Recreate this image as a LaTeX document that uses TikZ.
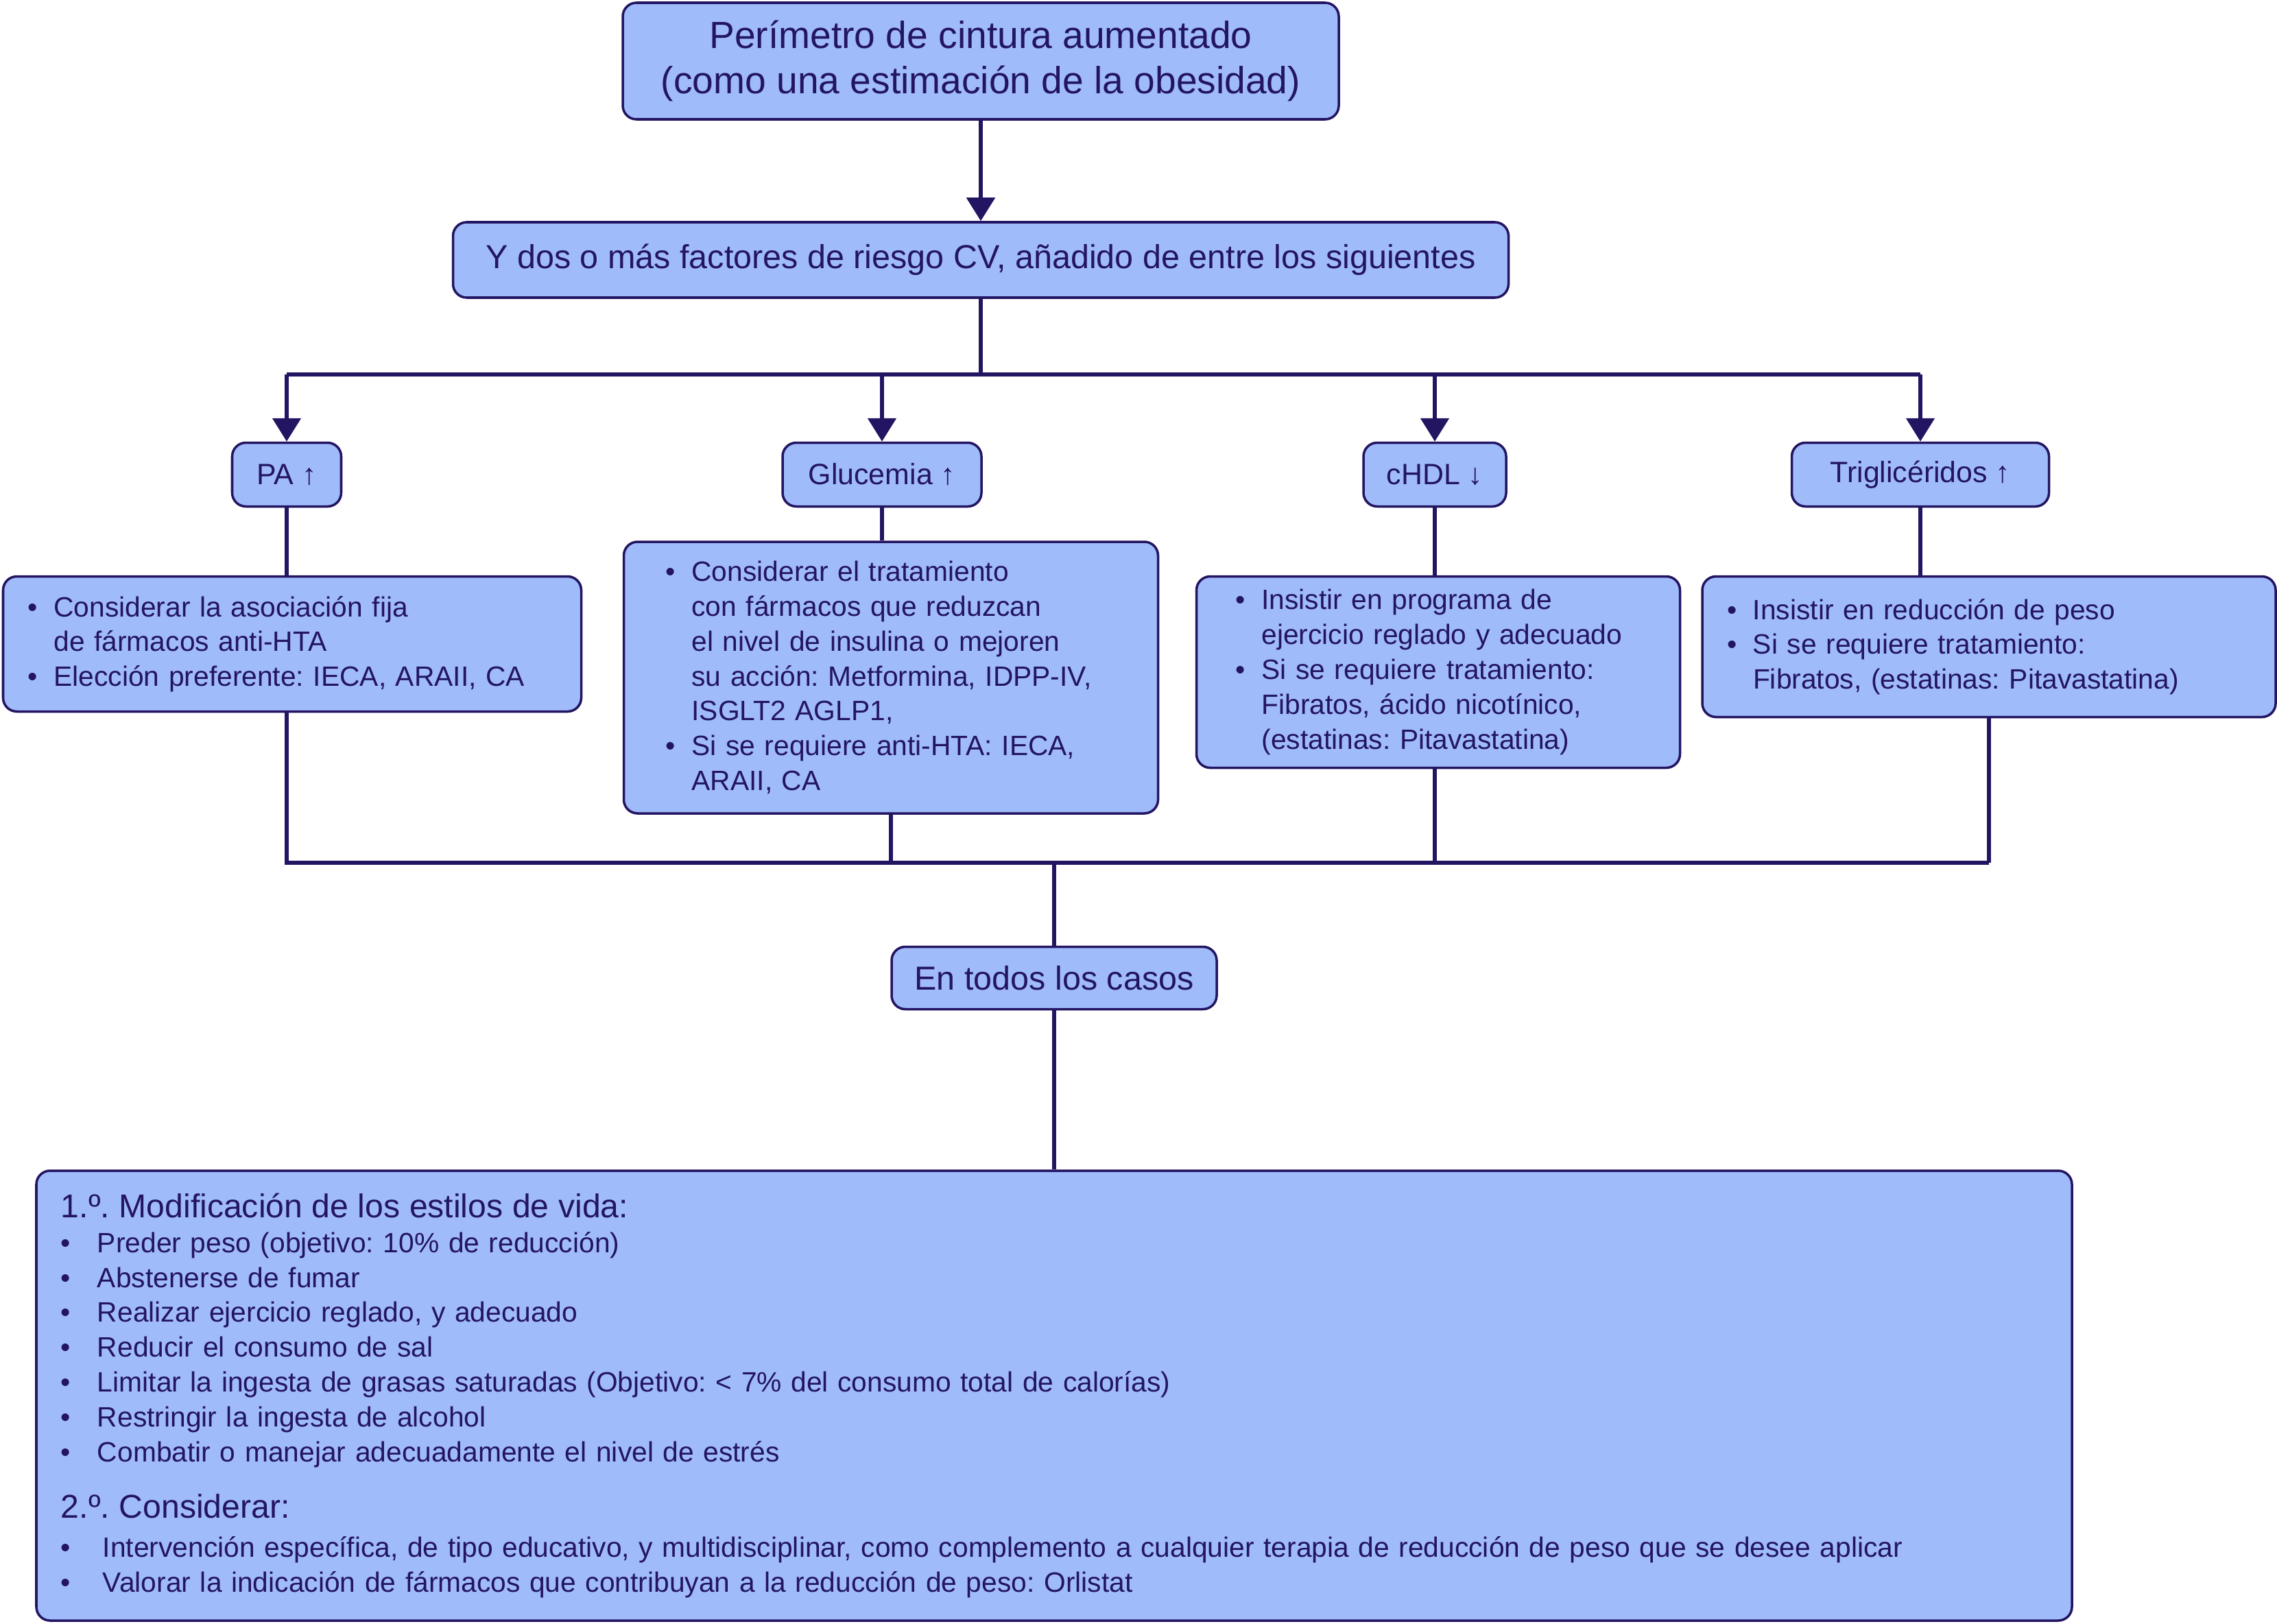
\documentclass[tikz,border=0pt]{standalone}
\usepackage{fontspec}
\setmainfont{Liberation Sans}
\usepackage{xcolor}
\usepackage{tikz}
\usetikzlibrary{positioning,arrows.meta}
\definecolor{cajafondo}{RGB}{160,187,250}
\definecolor{marino}{RGB}{35,21,98}
\newcommand{\vi}{\makebox[0.38cm][l]{\textbullet}}
\newcommand{\sangria}{\hspace*{0.38cm}}
\newcommand{\vii}{\makebox[0.53cm][l]{\textbullet}}
\newcommand{\viii}{\makebox[0.61cm][l]{\textbullet}}
\frenchspacing

\begin{document}
\begin{tikzpicture}[x=1cm,y=-1cm,
  caja/.style={draw=marino,fill=cajafondo,rounded corners=2mm,line width=1pt,text=marino,inner sep=0pt},
  grande/.style={font=\fontsize{15.7}{18.6}\selectfont},
  medio/.style={font=\fontsize{13.8}{16}\selectfont},
  etiqueta/.style={font=\fontsize{12.2}{14.45}\selectfont},
  chico/.style={font=\fontsize{11.6}{14.45}\selectfont},
  linea/.style={draw=marino,line width=1.5pt},
  flecha/.style={linea,-{Triangle[length=3.4mm,width=4.1mm]}}]
  \useasboundingbox (0,0) rectangle (33.2,23.67);
  \node[caja,grande,align=center,minimum width=10.44cm,minimum height=1.70cm] (cintura) at (14.30,0.89) {Perímetro de cintura aumentado\\(como una estimación de la obesidad)};
  \node[caja,medio,minimum width=15.39cm,minimum height=1.10cm] (factores) at (14.30,3.79) {Y dos o más factores de riesgo CV, añadido de entre los siguientes};
  \node[caja,etiqueta,minimum width=1.59cm,minimum height=0.93cm] (pa) at (4.18,6.92) {PA ↑};
  \node[caja,etiqueta,minimum width=2.90cm,minimum height=0.93cm] (glu) at (12.86,6.92) {Glucemia ↑};
  \node[caja,etiqueta,minimum width=2.08cm,minimum height=0.93cm] (hdl) at (20.92,6.92) {cHDL ↓};
  \node[caja,etiqueta,minimum width=3.75cm,minimum height=0.93cm] (tg) at (28.00,6.92) {Triglicéridos ↑};
  \node[caja,chico,align=left,text width=7.71cm,inner xsep=0.36cm,minimum height=1.97cm] (padet) at (4.26,9.39) {\vi Considerar la asociación fija\\\sangria de fármacos anti-HTA\\\vi Elección preferente: IECA, ARAII, CA};
  \node[caja,chico,align=left,text width=6.57cm,inner xsep=0.61cm,minimum height=3.96cm] (gludet) at (12.99,9.88) {\vi Considerar el tratamiento\\\sangria con fármacos que reduzcan\\\sangria el nivel de insulina o mejoren\\\sangria su acción: Metformina, IDPP-IV,\\\sangria ISGLT2 AGLP1,\\\vi Si se requiere anti-HTA: IECA,\\\sangria ARAII, CA};
  \node[caja,chico,align=left,text width=5.91cm,inner xsep=0.57cm,minimum height=2.79cm] (hdldet) at (20.97,9.80) {\vi Insistir en programa de\\\sangria ejercicio reglado y adecuado\\\vi Si se requiere tratamiento:\\\sangria Fibratos, ácido nicotínico,\\\sangria (estatinas: Pitavastatina)};
  \node[caja,chico,align=left,text width=7.64cm,inner xsep=0.36cm,minimum height=2.05cm] (tgdet) at (29.00,9.43) {\vi Insistir en reducción de peso\\\vi Si se requiere tratamiento:\\\sangria Fibratos, (estatinas: Pitavastatina)};
  \node[caja,medio,minimum width=4.74cm,minimum height=0.91cm] (todos) at (15.37,14.26) {En todos los casos};
  \node[caja,chico,align=left,text width=28.96cm,inner xsep=0.36cm,minimum height=6.56cm] (estilos) at (15.37,20.35) {{\fontsize{13.7}{14.45}\selectfont 1.º. Modificación de los estilos de vida:}\\
    \vii Preder peso (objetivo: 10\% de reducción)\\
    \vii Abstenerse de fumar\\
    \vii Realizar ejercicio reglado, y adecuado\\
    \vii Reducir el consumo de sal\\
    \vii Limitar la ingesta de grasas saturadas (Objetivo: < 7\% del consumo total de calorías)\\
    \vii Restringir la ingesta de alcohol\\
    \vii Combatir o manejar adecuadamente el nivel de estrés\\[0.32cm]
    {\fontsize{13.7}{14.45}\selectfont 2.º. Considerar:}\\[0.06cm]
    \viii Intervención específica, de tipo educativo, y multidisciplinar, como complemento a cualquier terapia de reducción de peso que se desee aplicar\\
    \viii Valorar la indicación de fármacos que contribuyan a la reducción de peso: Orlistat};
  \coordinate (rama) at (14.30,5.46);
  \coordinate (junta) at (15.37,12.58);
  \draw[flecha] (cintura) -- (factores);
  \draw[linea] (factores) -- (rama);
  \draw[linea] (pa |- rama) -- (tg |- rama);
  \foreach \n in {pa,glu,hdl,tg} \draw[flecha] (\n |- rama) -- (\n);
  \foreach \n/\d in {pa/padet,glu/gludet,hdl/hdldet,tg/tgdet} \draw[linea] (\n) -- (\n |- \d.north);
  \draw[linea] (pa |- padet.south) -- (pa |- junta) -- (tgdet |- junta);
  \draw[linea] (gludet) -- (gludet |- junta);
  \draw[linea] (hdl |- hdldet.south) -- (hdl |- junta);
  \draw[linea] (tgdet) -- (tgdet |- junta);
  \draw[linea] (junta) -- (todos);
  \draw[linea] (todos) -- (estilos);
\end{tikzpicture}
\end{document}
